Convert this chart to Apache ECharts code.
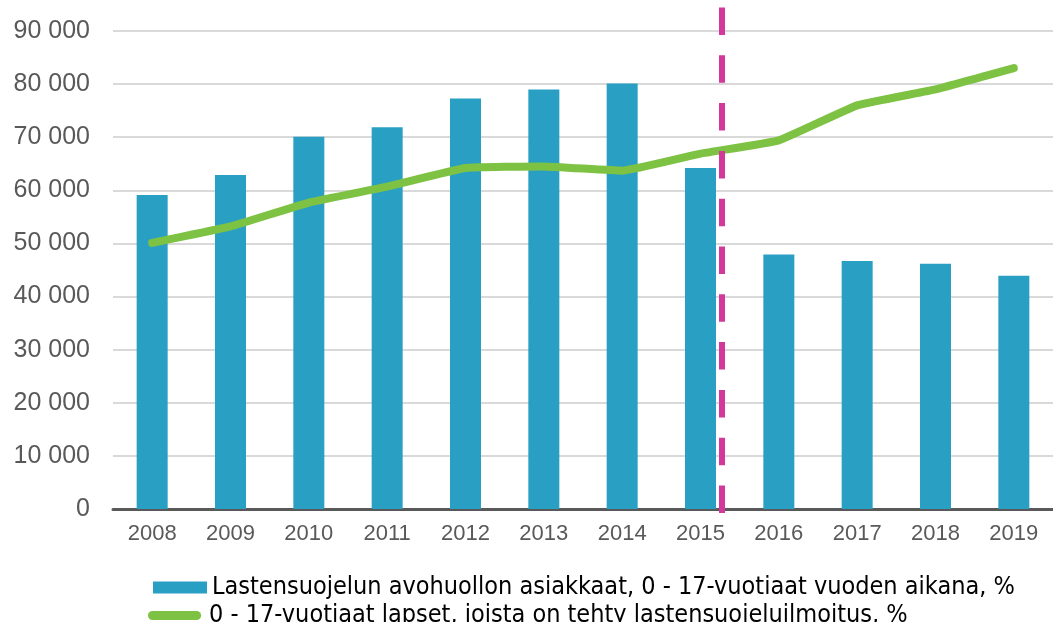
<!DOCTYPE html>
<html>
<head>
<meta charset="utf-8">
<title>Lastensuojelu</title>
<script src="https://cdn.jsdelivr.net/npm/echarts@6/dist/echarts.min.js"></script>
<style>
    html, body { margin: 0; padding: 0; background: #ffffff; }
    .char { width: 1053px; height: 622px; }
</style>
</head>
<body>
<div class="char"></div>
<script>
// data
var years = ['2008', '2009', '2010', '2011', '2012', '2013', '2014', '2015', '2016', '2017', '2018', '2019'];
var avohuolto = [59100, 62900, 70100, 71900, 77300, 79000, 80100, 64200, 47900, 46700, 46200, 43900];
var ilmoitukset = [50100, 53200, 57700, 60700, 64200, 64500, 63700, 66900, 69400, 76000, 79000, 83000];
var yTicks = [0, 90000, 10000]; // min, max, interval
var dividerAt = 7.27; // category index where the dashed line sits
var barName = 'Lastensuojelun avohuollon asiakkaat, 0 - 17-vuotiaat vuoden aikana, %';
var lineName = '0 - 17-vuotiaat lapset, joista on tehty lastensuojeluilmoitus, %';

(function () {
    // 1实例化对象
    var myChart = echarts.init(document.querySelector('.char'));

    var gray = '#595959';
    var green = '#7dc243';
    var font = "'Liberation Sans', Arial, sans-serif";
    var legendText = {
        color: '#000000',
        fontFamily: "'Liberation Sans Narrow', 'Arial Narrow', 'DejaVu Sans Condensed', sans-serif",
        fontSize: 25,
        lineHeight: 27
    };

    // 2. 指定配置项和数据
    var option = {
        animation: false,
        legend: [
            {
                left: 148,
                top: 569,
                itemWidth: 54,
                itemHeight: 12,
                data: [{ name: barName, icon: 'rect' }],
                textStyle: legendText
            },
            {
                left: 143,
                top: 597,
                itemWidth: 59,
                itemHeight: 9,
                // thick line with round ends
                data: [{
                    name: lineName,
                    icon: 'path://M5,0 H54 A5,5 0 0 1 54,10 H5 A5,5 0 0 1 5,0 Z',
                    itemStyle: { color: green }
                }],
                textStyle: legendText
            }
        ],
        grid: [
            { left: 113, right: 0, top: 31, bottom: 113 },
            // overlay grid only for the dashed divider
            { left: 113, right: 0, top: 7, bottom: 109 }
        ],
        xAxis: [
            {
                type: 'category',
                data: years,
                gridIndex: 0,
                axisTick: { show: false },
                axisLine: { lineStyle: { color: gray, width: 3 } },
                axisLabel: { color: gray, fontFamily: font, fontSize: 22, margin: 14 }
            },
            { type: 'value', gridIndex: 1, min: -0.5, max: years.length - 0.5, show: false }
        ],
        yAxis: [
            {
                type: 'value',
                gridIndex: 0,
                min: yTicks[0],
                max: yTicks[1],
                interval: yTicks[2],
                axisLine: { show: false },
                axisTick: { show: false },
                axisLabel: {
                    color: gray,
                    fontFamily: font,
                    fontSize: 25,
                    margin: 23,
                    formatter: function (v) {
                        return String(v).replace(/\B(?=(\d{3})+(?!\d))/g, ' ');
                    }
                },
                splitLine: { lineStyle: { color: '#d9d9d9', width: 2 } }
            },
            { type: 'value', gridIndex: 1, min: 0, max: 1, show: false }
        ],
        series: [
            {
                name: barName,
                type: 'bar',
                barWidth: 31,
                itemStyle: { color: '#29a0c3' },
                data: avohuolto
            },
            {
                name: lineName,
                type: 'line',
                smooth: 0.1,
                symbol: 'none',
                lineStyle: { color: green, width: 8, cap: 'round', join: 'round' },
                itemStyle: { color: green },
                z: 3,
                data: ilmoitukset
            },
            {
                type: 'line',
                xAxisIndex: 1,
                yAxisIndex: 1,
                data: [],
                z: 5,
                markLine: {
                    silent: true,
                    symbol: 'none',
                    label: { show: false },
                    lineStyle: { color: '#d2399a', width: 6, type: [27.5, 20.3] },
                    data: [[{ coord: [dividerAt, 0] }, { coord: [dividerAt, 1] }]]
                }
            }
        ]
    };

    // 3. 把配置给实例对象
    myChart.setOption(option);

    // 5. 让图表跟随屏幕自动的去适应
    window.addEventListener('resize', function () {
        myChart.resize();
    });
})();
</script>
</body>
</html>
